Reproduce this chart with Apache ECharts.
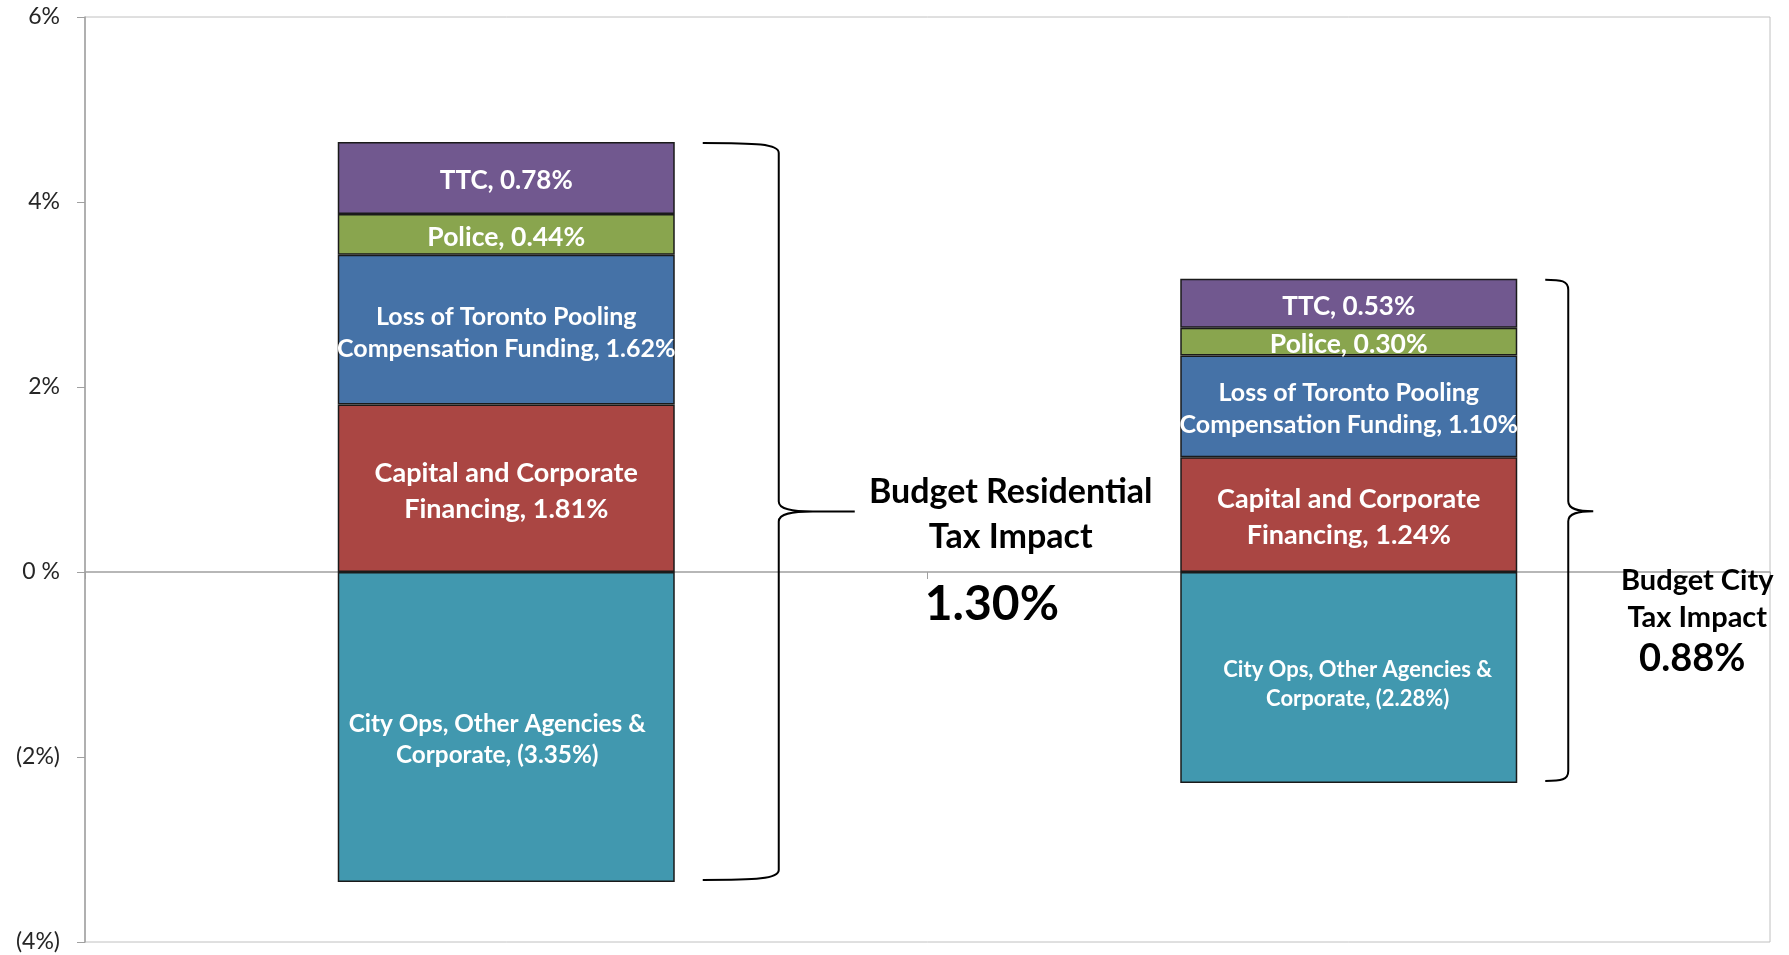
<!DOCTYPE html>
<html>
<head>
<meta charset="utf-8">
<script src="https://cdn.jsdelivr.net/npm/echarts@6/dist/echarts.min.js"></script>
<style>
  html, body { margin: 0; padding: 0; background: #fff; }
  #chart { width: 1789px; height: 955px; }
</style>
</head>
<body>
<div id="chart"></div>
<script>
// ---- data ----
const categories = ['Budget Residential\nTax Impact', 'Budget City\nTax Impact'];
const capitalFinancing = [1.81, 1.24];
const poolingLoss = [1.62, 1.10];
const police = [0.44, 0.30];
const ttc = [0.78, 0.53];
const cityOps = [-3.35, -2.28];
const taxImpact = [1.30, 0.88];
const segmentNames = [
  'Capital and Corporate\nFinancing',
  'Loss of Toronto Pooling\nCompensation Funding',
  'Police',
  'TTC',
  'City Ops, Other Agencies &\nCorporate'
];
const yMin = -4, yMax = 6, yStep = 2;

// ---- helpers ----
function pct(v) {
  return v < 0 ? '(' + (-v).toFixed(2) + '%)' : v.toFixed(2) + '%';
}
function tickLabel(v) {
  if (v === 0) return '0 %';
  return v < 0 ? '(' + (-v) + '%)' : v + '%';
}
const FONT = 'Lato, "Noto Sans", sans-serif';
const colors = ['#AA4643', '#4572A7', '#89A54E', '#71588F', '#4198AF'];
const seriesValues = [capitalFinancing, poolingLoss, police, ttc, cityOps];
const labelSizes = [27, 25, 26.5, 26, 24.3];
const labelLH = [36, 32, 30, 30, 31];

const posTotals = categories.map((c, i) =>
  capitalFinancing[i] + poolingLoss[i] + police[i] + ttc[i]);
const braceData = categories.map((c, i) => [i, posTotals[i], cityOps[i]]);

// brace geometry (pixel offsets from the bar's right edge)
const braceShapes = [
  { gap: 28, arm: 104, tip: 180, tl: 34, tipFrac: 0.5,
    titleDx: 156, titleDy: 3, titleSize: 34, titleLH: 45,
    valDx: 70, valDy: 93, valAlign: 'left', valSize: 48 },
  { gap: 28, arm: 51, tip: 76, tl: 25, tipFrac: 0.462,
    titleDx: 104, titleDy: 88, titleSize: 29, titleLH: 37,
    valDx: 99, valDy: 147, valAlign: 'center', valSize: 38 }
];

function renderBrace(params, api) {
  const i = api.value(0);
  const top = api.coord([i, api.value(1)]);
  const bot = api.coord([i, api.value(2)]);
  const catW = api.size([1, 0])[0];
  const s = braceShapes[i];
  const xr = top[0] + catW * 0.2;
  const x0 = xr + s.gap, x1 = xr + s.arm, x2 = xr + s.tip;
  const yT = top[1] + 1, yB = bot[1] - 2;
  const yM = yT + (yB - yT) * s.tipFrac;
  const r = 10, tr = 10, tl = s.tl;
  const cx = x0 + (x1 - x0) * 0.7;
  const d =
    'M' + x0 + ',' + yT +
    ' C' + cx + ',' + yT + ' ' + x1 + ',' + (yT + 1) + ' ' + x1 + ',' + (yT + r) +
    ' L' + x1 + ',' + (yM - tr) +
    ' C' + x1 + ',' + (yM - 2) + ' ' + (x1 + tl * 0.4) + ',' + yM + ' ' + (x1 + tl) + ',' + yM +
    ' L' + x2 + ',' + yM +
    ' M' + (x1 + tl) + ',' + yM +
    ' C' + (x1 + tl * 0.4) + ',' + yM + ' ' + x1 + ',' + (yM + 2) + ' ' + x1 + ',' + (yM + tr) +
    ' L' + x1 + ',' + (yB - r) +
    ' C' + x1 + ',' + (yB - 1) + ' ' + cx + ',' + yB + ' ' + x0 + ',' + yB;
  return {
    type: 'group',
    children: [
      { type: 'path', shape: { pathData: d },
        style: { fill: 'none', stroke: '#000', lineWidth: 2 } },
      { type: 'text', x: x2 + s.titleDx, y: yM + s.titleDy,
        style: { text: categories[i], fill: '#000', fontFamily: FONT, fontWeight: 'bold',
          fontSize: s.titleSize, lineHeight: s.titleLH, align: 'center', verticalAlign: 'middle' } },
      { type: 'text', x: x2 + s.valDx, y: yM + s.valDy,
        style: { text: taxImpact[i].toFixed(2) + '%', fill: '#000', fontFamily: FONT, fontWeight: 'bold',
          fontSize: s.valSize, align: s.valAlign, verticalAlign: 'middle' } }
    ]
  };
}

const barSeries = seriesValues.map((vals, k) => ({
  name: segmentNames[k],
  type: 'bar',
  stack: 'total',
  barWidth: '40%',
  data: vals.map((v, i) => {
    const item = { value: v };
    if (k === 4 && i === 0) item.label = { offset: [-9, 13] };
    if (k === 4 && i === 1) item.label = { offset: [9, 7], fontSize: 22, lineHeight: 29 };
    return item;
  }),
  itemStyle: { color: colors[k], borderColor: '#1a1a1a', borderWidth: 1.5 },
  label: {
    show: true,
    position: 'inside',
    offset: [0, 3],
    color: '#fff',
    fontFamily: FONT,
    fontWeight: 'bold',
    fontSize: labelSizes[k],
    lineHeight: labelLH[k],
    formatter: (p) => segmentNames[k] + ', ' + pct(p.value)
  },
  emphasis: { disabled: true },
  animation: false
}));

const chart = echarts.init(document.getElementById('chart'), null, { renderer: 'canvas' });
chart.setOption({
  animation: false,
  backgroundColor: '#fff',
  grid: {
    left: 85, right: 19, top: 17, bottom: 13,
    show: true, borderColor: '#c0c0c0', borderWidth: 1,
    containLabel: false, outerBoundsMode: 'none'
  },
  xAxis: {
    type: 'category',
    data: categories,
    axisLine: { onZero: true, lineStyle: { color: '#a0a0a0', width: 1.5 } },
    axisTick: { show: true, length: 7, lineStyle: { color: '#a0a0a0' } },
    axisLabel: { show: false },
    splitLine: { show: false }
  },
  yAxis: {
    type: 'value',
    min: yMin, max: yMax, interval: yStep,
    axisLine: { show: true, lineStyle: { color: '#a0a0a0', width: 1.5 } },
    axisTick: { show: true, length: 8, lineStyle: { color: '#a0a0a0' } },
    splitLine: { show: false },
    axisLabel: {
      formatter: tickLabel, margin: 25,
      fontFamily: FONT, fontSize: 23, color: '#262626'
    }
  },
  series: barSeries.concat([{
    type: 'custom',
    renderItem: renderBrace,
    data: braceData,
    clip: false,
    silent: true,
    z: 5
  }])
});
</script>
</body>
</html>
